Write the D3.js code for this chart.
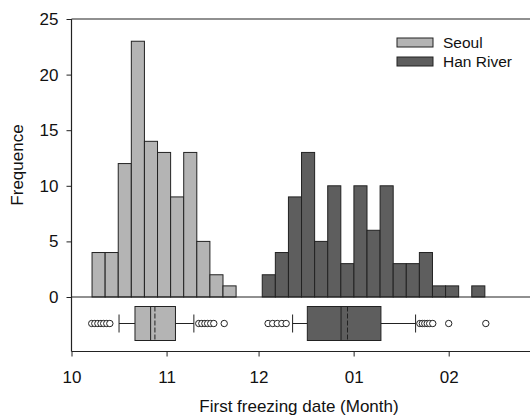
<!DOCTYPE html>
<html>
<head>
<meta charset="utf-8">
<script src="https://cdn.jsdelivr.net/npm/d3@7"></script>
<style>
  body { margin: 0; background: #fff; }
  svg text { font-family: "Liberation Sans", Arial, sans-serif; fill: #111; }
</style>
</head>
<body>
<svg id="chart" width="530" height="416"></svg>
<script>
// x values are days counted from 1 October
var monthTicks = [0, 31, 61, 92, 123];
var monthLabels = ["10", "11", "12", "01", "02"];
var yTicks = [0, 5, 10, 15, 20, 25];

var binWidth = 4.27;
var seoulBinStart = 6.7;
var hanBinStart = 62.2;
var seoulCounts = [4, 4, 12, 23, 14, 13, 9, 13, 5, 2, 1];
var hanCounts = [2, 4, 9, 13, 5, 10, 3, 10, 6, 10, 3, 3, 4, 1, 1, 0, 1];

// box stats: [whiskerLow, q1, median, mean, q3, whiskerHigh]
var seoulBox = [15.5, 20.7, 25.8, 27.2, 33.9, 39.9];
var hanBox = [72.1, 76.9, 87.9, 90.0, 100.9, 112.2];
var seoulOutliers = [6.6, 7.6, 8.6, 9.6, 10.5, 11.5, 12.5, 41.5, 42.5, 43.5, 44.4, 45.4, 46.4, 49.8];
var hanOutliers = [64.1, 65.6, 67.1, 68.6, 70.0, 113.6, 114.4, 115.2, 116.0, 116.8, 117.8, 123.0, 135.1];

var seriesNames = ["Seoul", "Han River"];
var seriesColors = ["#b4b4b4", "#5e5e5e"];

(function () {
    var svg = d3.select("#chart");
    var pLeft = 71.5, pRight = 531.5, pTop = 19, pBase = 297, pBottom = 351.5;

    var x = d3.scaleLinear().domain([0, 150]).range([pLeft, pRight]);
    var y = d3.scaleLinear().domain([0, 25]).range([pBase, pTop]);

    function bins(start, counts) {
        return counts.map(function (c, i) {
            return {x0: start + i * binWidth, x1: start + (i + 1) * binWidth, n: c};
        }).filter(function (d) { return d.n > 0; });
    }

    var series = [
        {name: seriesNames[0], color: seriesColors[0], bins: bins(seoulBinStart, seoulCounts), box: seoulBox, out: seoulOutliers},
        {name: seriesNames[1], color: seriesColors[1], bins: bins(hanBinStart, hanCounts), box: hanBox, out: hanOutliers}
    ];

    // histograms
    series.forEach(function (s) {
        svg.append("g").selectAll("rect")
            .data(s.bins)
            .enter().append("rect")
            .attr("x", function (d) { return x(d.x0); })
            .attr("width", function (d) { return x(d.x1) - x(d.x0); })
            .attr("y", function (d) { return y(d.n); })
            .attr("height", function (d) { return y(0) - y(d.n); })
            .attr("fill", s.color)
            .attr("stroke", "#222")
            .attr("stroke-width", 1);
    });

    // box plots
    var boxMid = 323.5, boxH = 34, capH = 18;
    series.forEach(function (s) {
        var b = s.box;
        var g = svg.append("g").attr("stroke", "#222").attr("stroke-width", 1);
        g.append("line").attr("x1", x(b[0])).attr("x2", x(b[1])).attr("y1", boxMid).attr("y2", boxMid);
        g.append("line").attr("x1", x(b[4])).attr("x2", x(b[5])).attr("y1", boxMid).attr("y2", boxMid);
        [b[0], b[5]].forEach(function (v) {
            g.append("line").attr("x1", x(v)).attr("x2", x(v))
                .attr("y1", boxMid - capH / 2).attr("y2", boxMid + capH / 2);
        });
        g.append("rect")
            .attr("x", x(b[1])).attr("width", x(b[4]) - x(b[1]))
            .attr("y", boxMid - boxH / 2).attr("height", boxH)
            .attr("fill", s.color);
        g.append("line").attr("x1", x(b[2])).attr("x2", x(b[2]))
            .attr("y1", boxMid - boxH / 2).attr("y2", boxMid + boxH / 2);
        g.append("line").attr("x1", x(b[3])).attr("x2", x(b[3]))
            .attr("y1", boxMid - boxH / 2).attr("y2", boxMid + boxH / 2)
            .attr("stroke-dasharray", "5,2");
        g.selectAll("circle")
            .data(s.out)
            .enter().append("circle")
            .attr("cx", function (d) { return x(d); })
            .attr("cy", boxMid)
            .attr("r", 3.2)
            .attr("fill", "#fff");
    });

    // frame lines
    var frame = svg.append("g").attr("stroke", "#222").attr("stroke-width", 1.2);
    frame.append("line").attr("x1", pLeft).attr("x2", 530).attr("y1", pTop).attr("y2", pTop);
    frame.append("line").attr("x1", pLeft).attr("x2", 530).attr("y1", pBase).attr("y2", pBase);
    frame.append("line").attr("x1", pLeft).attr("x2", 530).attr("y1", pBottom).attr("y2", pBottom);
    frame.append("line").attr("x1", pLeft).attr("x2", pLeft).attr("y1", pTop).attr("y2", pBottom);

    // y axis
    var yAxis = svg.append("g")
        .attr("transform", "translate(" + pLeft + ",0)")
        .call(d3.axisLeft(y).tickValues(yTicks).tickSize(5).tickPadding(8));

    // x axis
    var xAxis = svg.append("g")
        .attr("transform", "translate(0," + pBottom + ")")
        .call(d3.axisBottom(x).tickValues(monthTicks)
            .tickFormat(function (d, i) { return monthLabels[i]; })
            .tickSize(5).tickPadding(14));

    [yAxis, xAxis].forEach(function (a) {
        a.select(".domain").remove();
        a.selectAll(".tick line").attr("stroke", "#222");
        a.selectAll(".tick text")
            .style("font-family", "Liberation Sans, Arial, sans-serif")
            .style("font-size", "17px").attr("fill", "#111");
    });

    // axis titles
    svg.append("text")
        .attr("x", 299).attr("y", 412)
        .attr("text-anchor", "middle").style("font-size", "17px")
        .text("First freezing date (Month)");

    svg.append("text")
        .attr("transform", "translate(23,165) rotate(-90)")
        .attr("text-anchor", "middle").style("font-size", "17px")
        .text("Frequence");

    // legend
    var legend = svg.append("g").attr("transform", "translate(397,38)");
    series.forEach(function (s, i) {
        legend.append("rect")
            .attr("x", 0).attr("y", i * 19)
            .attr("width", 36).attr("height", 9)
            .attr("fill", s.color).attr("stroke", "#222");
        legend.append("text")
            .attr("x", 46).attr("y", i * 19 + 10)
            .style("font-size", "15.5px")
            .text(s.name);
    });
})();
</script>
</body>
</html>
